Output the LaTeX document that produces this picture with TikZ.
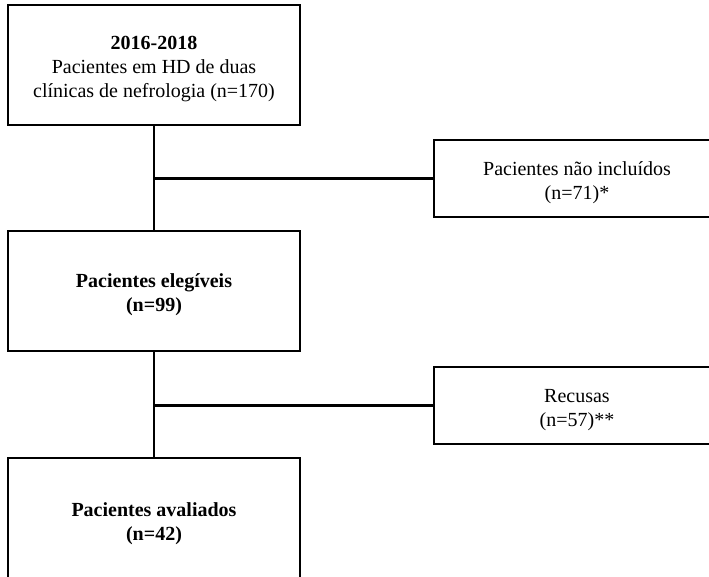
\documentclass[tikz,border=0pt]{standalone}
\usepackage{fontspec}
\setmainfont{Liberation Serif}
\newcommand{\mytopstrut}{\rule{0pt}{22pt}}
\begin{document}
\begin{tikzpicture}[x=1pt,y=-1pt,
  box/.style={draw=black,line width=2.2pt,rectangle,inner sep=0pt,align=center,
    font=\fontsize{20}{24}\selectfont},
  conn/.style={draw=black,line width=2.2pt}]
\useasboundingbox[fill=white] (0,0) rectangle (709,577);
\clip (0,0) rectangle (709,577);
\node[box,minimum width=292pt,minimum height=120pt] (b1) at (154,65)
  {\mytopstrut\textbf{2016-2018}\\Pacientes em HD de duas\\clínicas de nefrologia (n=170)};
\node[box,minimum width=292pt,minimum height=120pt] (b2) at (154,291)
  {\mytopstrut\textbf{Pacientes elegíveis}\\\textbf{(n=99)}};
\node[box,minimum width=292pt,minimum height=124pt] (b3) at (154,520)
  {\mytopstrut\textbf{Pacientes avaliados}\\\textbf{(n=42)}};
\node[box,minimum width=286pt,minimum height=77pt] (r1) at (577,178.5)
  {\mytopstrut Pacientes não incluídos\\(n=71)*};
\node[box,minimum width=286pt,minimum height=77pt] (r2) at (577,405.5)
  {\mytopstrut Recusas\\(n=57)**};
\draw[conn] (b1.south) -- (b2.north);
\draw[conn] (b2.south) -- (b3.north);
\coordinate (j1) at (b1.south |- r1.west);
\coordinate (j2) at (b2.south |- r2.west);
\draw[conn] (j1) -- (r1.west);
\draw[conn] (j2) -- (r2.west);
\end{tikzpicture}
\end{document}
